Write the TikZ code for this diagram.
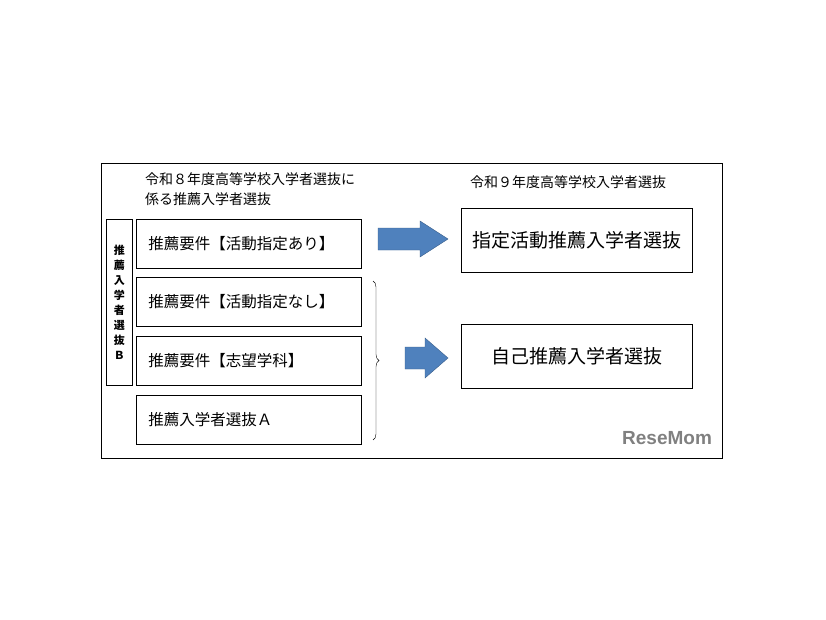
\documentclass[tikz,border=0pt]{standalone}
\usepackage{fontspec}
\newfontfamily\jp{Noto Sans CJK JP}
\usetikzlibrary{decorations.pathreplacing}
\definecolor{arrowblue}{HTML}{4F81BD}
\definecolor{arrowline}{HTML}{385D8A}
\tikzset{
  leftbox/.style={draw, thick, minimum width=225, minimum height=49, anchor=north west, inner xsep=12, font=\jp\fontsize{15.5}{15.5}\selectfont},
  rightbox/.style={draw, thick, minimum width=231, minimum height=64, anchor=north west, font=\jp\fontsize{19}{19}\selectfont},
  bluearrow/.style={draw=arrowline, fill=arrowblue},
  header/.style={anchor=north west, font=\jp\fontsize{14}{20}\selectfont, align=left, inner sep=0}
}
\begin{document}
\begin{tikzpicture}[x=1pt,y=-1pt]
  \useasboundingbox (0,0) rectangle (826,620);
  \draw (101,163) rectangle (722,458);
  % headers
  \node[header] (hleft) at (145,172) {令和８年度高等学校入学者選抜に\\係る推薦入学者選抜};
  \node[header] (hright) at (470,175) {令和９年度高等学校入学者選抜};
  % left column
  \node[draw, thick, minimum width=26, minimum height=166, anchor=north west, align=center, inner sep=0,
        font=\jp\bfseries\fontsize{11}{15}\selectfont] (selb) at (106,219) {推\\薦\\入\\学\\者\\選\\抜\\Ｂ};
  \node[leftbox, text width=201, align=left] (req1) at (136,219) {推薦要件【活動指定あり】};
  \node[leftbox, text width=201, align=left] (req2) at (136,277) {推薦要件【活動指定なし】};
  \node[leftbox, text width=201, align=left] (req3) at (136,336) {推薦要件【志望学科】};
  \node[leftbox, text width=201, align=left] (selA) at (136,395) {推薦入学者選抜Ａ};
  % right column
  \node[rightbox] (spec) at (461,208) {指定活動推薦入学者選抜};
  \node[rightbox] (self) at (461,324) {自己推薦入学者選抜};
  % arrows
  \draw[bluearrow] (378,228) -- (420,228) -- (420,221) -- (448,239) -- (420,257) -- (420,250) -- (378,250) -- cycle;
  \draw[bluearrow] (405,347) -- (425,347) -- (425,338) -- (448,358) -- (425,378) -- (425,369) -- (405,369) -- cycle;
  \coordinate (btop) at (373,281);
  \coordinate (bbot) at (373,440);
  \draw[decorate, decoration={brace, amplitude=6pt}] (btop) -- (bbot);
  % logo
  \node[anchor=north west, inner sep=0, text=gray, font=\fontspec{Liberation Sans}\bfseries\fontsize{19}{19}\selectfont] (logo) at (622,431) {ReseMom};
\end{tikzpicture}
\end{document}
